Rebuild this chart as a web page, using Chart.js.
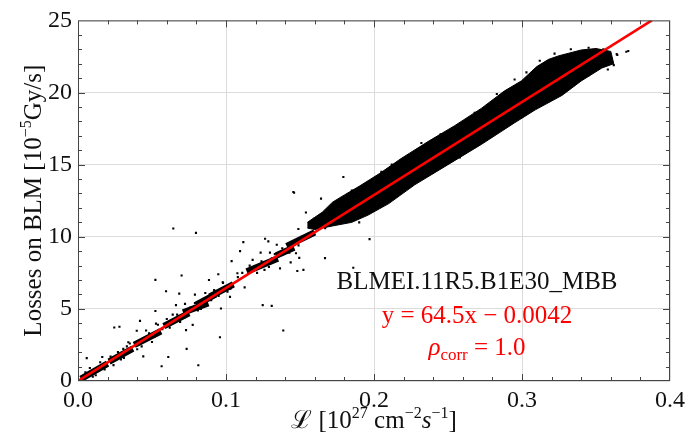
<!DOCTYPE html>
<html>
<head>
<meta charset="utf-8">
<script src="https://cdn.jsdelivr.net/npm/chart.js@4.4.1/dist/chart.umd.min.js"></script>
<style>
  html, body { margin: 0; padding: 0; background: #fff; }
  #wrap { width: 698px; height: 446px; }
</style>
</head>
<body>
<div id="wrap"><canvas id="chart"></canvas></div>
<script>
// axis ranges / ticks
var xTicks = [0, 0.1, 0.2, 0.3, 0.4];
var yTicks = [0, 5, 10, 15, 20, 25];

// fitted line y = 64.5x - 0.0042, end points
var fitX = [0, 0.3877];
var fitY = [-0.0042, 25];

// dense band of points (0.155 .. 0.365): upper edge left->right, lower edge right->left
var bandUpperX = [0.155, 0.165, 0.172, 0.180, 0.190, 0.204, 0.218, 0.2365, 0.2545, 0.2725, 0.288, 0.2995, 0.310, 0.318, 0.325, 0.340, 0.350, 0.360];
var bandUpperY = [11.0, 11.7, 12.4, 12.9, 13.5, 14.4, 15.4, 16.6, 17.7, 18.9, 20.1, 20.8, 21.8, 22.3, 22.55, 22.95, 23.05, 22.85];
var bandLowerX = [0.362, 0.354, 0.340, 0.327, 0.309, 0.295, 0.2725, 0.250, 0.2275, 0.210, 0.196, 0.185, 0.172, 0.160, 0.155];
var bandLowerY = [22.0, 21.7, 20.8, 19.8, 18.8, 17.9, 16.4, 15.0, 13.6, 12.3, 11.5, 11.0, 10.75, 10.5, 10.6];

// low-luminosity clusters (steps), start and end of each
var stepStartX = [0.002, 0.021, 0.038, 0.058, 0.071, 0.080, 0.089, 0.114, 0.134, 0.141];
var stepStartY = [0.15, 1.35, 2.5, 3.8, 4.75, 5.3, 5.85, 7.6, 8.7, 9.35];
var stepEndX = [0.020, 0.037, 0.056, 0.075, 0.088, 0.093, 0.105, 0.135, 0.146, 0.160];
var stepEndY = [1.2, 2.25, 3.45, 4.7, 5.4, 6.0, 6.7, 8.5, 9.25, 10.3];

// scattered points close to the line / band edges
var nearX = [0.008, 0.012, 0.015, 0.024, 0.027, 0.031, 0.035, 0.043, 0.046, 0.050, 0.054, 0.062, 0.064, 0.069, 0.076, 0.083, 0.086, 0.090, 0.098, 0.101, 0.108, 0.111, 0.118, 0.126, 0.131, 0.138, 0.149, 0.156, 0.160,
  0.005, 0.010, 0.018, 0.022, 0.029, 0.033, 0.040, 0.048, 0.052, 0.057, 0.060, 0.067, 0.072, 0.079, 0.081, 0.092, 0.095, 0.103, 0.116, 0.121, 0.124, 0.129, 0.133, 0.143, 0.151, 0.167,
  0.185, 0.195, 0.205, 0.212, 0.225, 0.232, 0.245, 0.260, 0.268, 0.283, 0.295, 0.303, 0.312, 0.322, 0.333, 0.345, 0.355,
  0.190, 0.200, 0.215, 0.222, 0.235, 0.243, 0.258, 0.265, 0.278, 0.287, 0.300, 0.305, 0.318, 0.322, 0.335, 0.345, 0.358, 0.362];
var nearY = [0.9, 0.4, 1.3, 1.1, 2.0, 1.6, 2.6, 2.4, 3.5, 2.7, 3.9, 3.7, 4.6, 4.1, 5.1, 5.0, 6.1, 5.6, 6.8, 6.2, 7.2, 7.5, 8.4, 7.7, 8.5, 9.2, 9.4, 10.2, 11.3,
  0.6, 0.3, 0.8, 1.7, 1.5, 2.4, 2.2, 3.3, 3.1, 3.6, 4.3, 4.6, 4.4, 5.4, 4.9, 6.3, 5.9, 6.4, 8.0, 7.5, 8.3, 7.9, 8.8, 9.1, 10.0, 10.6,
  13.2, 13.7, 14.5, 15.0, 15.7, 16.5, 17.1, 17.9, 18.6, 19.9, 20.9, 21.4, 22.2, 22.7, 23.0, 23.1, 23.0,
  11.0, 11.9, 12.8, 13.4, 14.3, 14.8, 15.5, 16.1, 16.9, 17.7, 18.3, 18.8, 19.4, 19.9, 20.6, 21.2, 21.6, 21.9];

// outliers
var outX = [0.0797, 0.0644, 0.1117, 0.1095, 0.1038, 0.070, 0.0523, 0.0595, 0.0684, 0.0948, 0.0885, 0.0978, 0.1126, 0.1077, 0.079, 0.0853, 0.0966, 0.0523, 0.0723, 0.0662,
  0.0419, 0.0527, 0.0245, 0.028, 0.0775, 0.073, 0.0959, 0.0734, 0.0441, 0.061, 0.0565, 0.0059, 0.0813, 0.0164, 0.034, 0.0397, 0.0306, 0.1027, 0.146, 0.154,
  0.1264, 0.1286, 0.1343, 0.1489, 0.1234, 0.1297, 0.1428, 0.1473, 0.1495, 0.1437, 0.1523, 0.1482, 0.1365, 0.1793, 0.1642, 0.1387, 0.1669, 0.1309, 0.1248, 0.197,
  0.186, 0.3644, 0.3705, 0.3718, 0.364, 0.1455];
var outY = [10.27, 10.57, 9.63, 9.0, 8.31, 7.31, 7.01, 6.22, 6.06, 7.4, 7.0, 6.85, 6.49, 7.47, 5.99, 5.42, 5.03, 4.85, 5.35, 5.26,
  4.17, 3.98, 3.71, 3.76, 3.89, 3.53, 3.03, 2.23, 1.71, 1.66, 1.02, 1.59, 1.09, 1.66, 2.69, 3.48, 2.23, 5.83, 13.05, 11.68,
  9.86, 9.68, 9.45, 10.54, 8.9, 8.9, 8.9, 8.86, 8.54, 8.22, 7.7, 7.63, 7.81, 14.14, 12.64, 3.5, 8.52, 5.21, 5.26, 9.84,
  7.85, 22.6, 22.83, 22.88, 22.66, 13.1];

var SERIF = "'Liberation Serif', 'DejaVu Serif', serif";

function pts(xs, ys) {
    return xs.map(function(x, i) { return { x: x, y: ys[i] }; });
}

// band polygon = upper edge then lower edge back
var bandData = pts(bandUpperX, bandUpperY).concat(pts(bandLowerX, bandLowerY));

// step segments, broken with a null point
var stepData = [];
stepStartX.forEach(function(x, i) {
    stepData.push({ x: x, y: stepStartY[i] });
    stepData.push({ x: stepEndX[i], y: stepEndY[i] });
    stepData.push({ x: stepEndX[i], y: null });
});

// draw text made of pieces (superscripts, italics)
function drawRich(ctx, parts, cx, baseline, color) {
    var total = 0;
    parts.forEach(function(p) {
        ctx.font = (p.style || '') + ' ' + p.size + 'px ' + SERIF;
        total += ctx.measureText(p.t).width;
    });
    var x = cx - total / 2;
    ctx.fillStyle = color;
    ctx.textAlign = 'left';
    ctx.textBaseline = 'alphabetic';
    parts.forEach(function(p) {
        ctx.font = (p.style || '') + ' ' + p.size + 'px ' + SERIF;
        ctx.fillText(p.t, x, baseline + (p.dy || 0));
        x += ctx.measureText(p.t).width;
    });
}

// frame, minor ticks, titles and labels
var decorPlugin = {
    id: 'decor',
    afterDatasetsDraw: function(chart) {
        var ctx = chart.ctx;
        var a = chart.chartArea;
        var xs = chart.scales.x, ys = chart.scales.y;
        ctx.save();
        ctx.strokeStyle = '#444';
        ctx.lineWidth = 1;
        ctx.strokeRect(a.left + 0.5, a.top + 0.5, a.right - a.left - 1, a.bottom - a.top - 1);

        // minor ticks on all four sides
        ctx.beginPath();
        for (var i = 1; i < 20; i++) {
            var px = Math.round(xs.getPixelForValue(i * 0.02)) + 0.5;
            var len = (i % 5 === 0) ? 7 : 4;
            ctx.moveTo(px, a.bottom); ctx.lineTo(px, a.bottom - len);
            ctx.moveTo(px, a.top); ctx.lineTo(px, a.top + len);
        }
        for (var j = 1; j < 25; j++) {
            var py = Math.round(ys.getPixelForValue(j)) + 0.5;
            var l2 = (j % 5 === 0) ? 7 : 4;
            ctx.moveTo(a.left, py); ctx.lineTo(a.left + l2, py);
            ctx.moveTo(a.right, py); ctx.lineTo(a.right - l2, py);
        }
        ctx.stroke();

        // axis titles
        drawRich(ctx, [
            { t: '\u2112', size: 25 },
            { t: ' [10', size: 25 },
            { t: '27', size: 16, dy: -10 },
            { t: ' cm', size: 25 },
            { t: '\u22122', size: 16, dy: -10 },
            { t: 's', size: 25, style: 'italic' },
            { t: '\u22121', size: 16, dy: -10 },
            { t: ']', size: 25 }
        ], (a.left + a.right) / 2, 428, '#111');

        ctx.save();
        ctx.translate(41, (a.top + a.bottom) / 2);
        ctx.rotate(-Math.PI / 2);
        drawRich(ctx, [
            { t: 'Losses on BLM [10', size: 25 },
            { t: '\u22125', size: 16, dy: -10 },
            { t: 'Gy/s]', size: 25 }
        ], 0, 0, '#111');
        ctx.restore();

        // annotation block
        var cx = xs.getPixelForValue(0.2696);
        drawRich(ctx, [{ t: 'BLMEI.11R5.B1E30_MBB', size: 25 }], cx, ys.getPixelForValue(6.35), '#111');
        drawRich(ctx, [{ t: 'y = 64.5x \u2212 0.0042', size: 25 }], cx, ys.getPixelForValue(4.03), '#ff0000');
        drawRich(ctx, [
            { t: '\u03c1', size: 25, style: 'italic' },
            { t: 'corr', size: 17, dy: 5 },
            { t: ' = 1.0', size: 25 }
        ], cx, ys.getPixelForValue(1.78), '#ff0000');
        ctx.restore();
    }
};

var dotStyle = {
    showLine: false,
    pointStyle: 'rect',
    pointRadius: 1.5,
    pointBackgroundColor: '#000',
    pointBorderWidth: 0
};

new Chart(document.getElementById('chart'), {
    type: 'line',
    data: {
        datasets: [
            {
                label: 'fit',
                data: pts(fitX, fitY),
                borderColor: '#ff0000',
                borderWidth: 2.6,
                pointRadius: 0,
                fill: false
            },
            {
                label: 'band',
                data: bandData,
                borderColor: '#000',
                backgroundColor: '#000',
                borderWidth: 1,
                pointRadius: 0,
                tension: 0,
                fill: 'shape'
            },
            {
                label: 'steps',
                data: stepData,
                borderColor: '#000',
                borderWidth: 6.5,
                borderCapStyle: 'butt',
                pointRadius: 0,
                spanGaps: false,
                fill: false
            },
            Object.assign({ label: 'near', data: pts(nearX, nearY) }, dotStyle),
            Object.assign({ label: 'outliers', data: pts(outX, outY) }, dotStyle)
        ]
    },
    options: {
        responsive: true,
        maintainAspectRatio: false,
        animation: false,
        events: [],
        layout: { padding: { left: 0, right: 28, top: 15, bottom: 0 } },
        plugins: {
            legend: { display: false },
            tooltip: { enabled: false }
        },
        scales: {
            x: {
                type: 'linear',
                min: 0,
                max: 0.4,
                afterFit: function(s) { s.height = 65; },
                afterBuildTicks: function(s) { s.ticks = xTicks.map(function(v) { return { value: v }; }); },
                ticks: {
                    padding: 5,
                    color: '#111',
                    font: { family: SERIF, size: 24 },
                    callback: function(v) { return v.toFixed(1); }
                },
                grid: { color: '#dcdcdc', drawTicks: false },
                border: { display: false }
            },
            y: {
                min: 0,
                max: 25,
                afterFit: function(s) { s.width = 78; },
                afterBuildTicks: function(s) { s.ticks = yTicks.map(function(v) { return { value: v }; }); },
                ticks: {
                    padding: 6,
                    color: '#111',
                    font: { family: SERIF, size: 24 }
                },
                grid: { color: '#dcdcdc', drawTicks: false },
                border: { display: false }
            }
        }
    },
    plugins: [decorPlugin]
});
</script>
</body>
</html>
